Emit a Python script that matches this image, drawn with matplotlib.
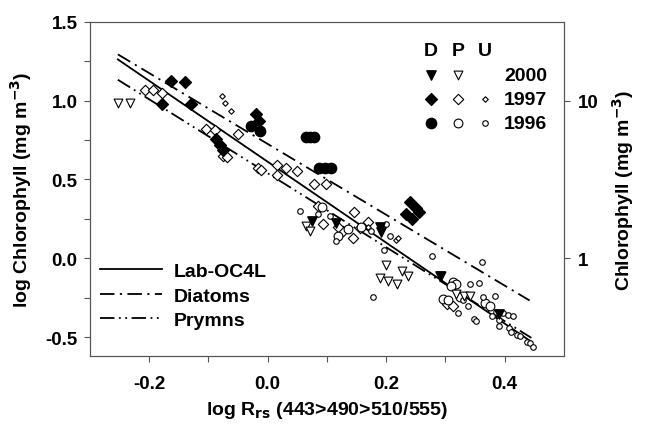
import matplotlib
matplotlib.use("Agg")
import matplotlib.pyplot as plt
import numpy as np

plt.rcParams['font.family'] = ['Liberation Sans', 'DejaVu Sans']

# ---- data ----
d2000_x = [0.074, 0.115, 0.189, 0.192, 0.290, 0.391]
d2000_y = [0.238, 0.223, 0.196, 0.165, -0.110, -0.355]

p2000_x = [-0.253, -0.233, 0.065, 0.071, 0.199, 0.226, 0.237, 0.189, 0.203, 0.218, 0.293, 0.318, 0.332, 0.341]
p2000_y = [0.987, 0.987, 0.206, 0.175, -0.042, -0.078, -0.114, -0.127, -0.142, -0.163, -0.110, -0.226, -0.237, -0.237]

d1997_x = [-0.163, -0.140, -0.178, -0.130, -0.088, -0.081, -0.076, -0.020, -0.015, 0.240, 0.251, 0.234, 0.244, 0.256]
d1997_y = [1.124, 1.118, 0.981, 0.977, 0.755, 0.717, 0.685, 0.913, 0.871, 0.354, 0.316, 0.280, 0.249, 0.293]

p1997_x = [-0.207, -0.194, -0.179, -0.104, -0.089, -0.050, -0.076, -0.069, -0.016, -0.011, 0.015, 0.015,
           0.030, 0.050, 0.078, 0.099, 0.085, 0.146, 0.170, 0.093, 0.127, 0.144, 0.118, 0.155, 0.302, 0.313]
p1997_y = [1.067, 1.067, 1.051, 0.818, 0.814, 0.791, 0.649, 0.639, 0.572, 0.561, 0.591, 0.527,
           0.572, 0.554, 0.470, 0.470, 0.333, 0.291, 0.228, 0.217, 0.175, 0.127, 0.200, 0.190, -0.289, -0.304]

u1997_x = [-0.078, -0.072, -0.062, 0.216, 0.220, 0.170]
u1997_y = [1.029, 0.987, 0.934, 0.118, 0.130, 0.200]

d1996_x = [-0.029, -0.013, 0.064, 0.071, 0.078, 0.086, 0.096, 0.106]
d1996_y = [0.839, 0.804, 0.770, 0.770, 0.770, 0.572, 0.572, 0.572]

p1996_x = [0.091, 0.119, 0.136, 0.158, 0.313, 0.318, 0.310, 0.296, 0.304, 0.324, 0.366, 0.376]
p1996_y = [0.323, 0.143, 0.185, 0.196, -0.152, -0.163, -0.173, -0.258, -0.268, -0.247, -0.283, -0.304]

u1996_x = [0.054, 0.085, 0.105, 0.115, 0.175, 0.200, 0.206, 0.196, 0.278, 0.178, 0.362, 0.341, 0.356,
           0.363, 0.383, 0.330, 0.338, 0.321, 0.386, 0.397, 0.405, 0.414, 0.379, 0.391, 0.349, 0.351,
           0.390, 0.408, 0.411, 0.420, 0.425, 0.437, 0.442, 0.448]
u1996_y = [0.301, 0.280, 0.270, 0.111, 0.175, 0.217, 0.143, 0.053, 0.013, -0.247, -0.025, -0.163, -0.156,
           -0.247, -0.237, -0.268, -0.304, -0.348, -0.338, -0.346, -0.359, -0.367, -0.367, -0.389, -0.384, -0.401,
           -0.427, -0.441, -0.468, -0.485, -0.494, -0.532, -0.536, -0.563]

oc4_x = [-0.253, 0.445]
oc4_y = [1.261, -0.530]
diat_x = [-0.253, 0.442]
diat_y = [1.293, -0.268]
prym_x = [-0.253, 0.445]
prym_y = [1.132, -0.505]

line_labels = ['Lab-OC4L', 'Diatoms', 'Prymns']
group_labels = ['D', 'P', 'U']
year_labels = ['2000', '1997', '1996']
right_ticks = [1, 10]

# ---- figure ----
fig = plt.figure(figsize=(6.46, 4.31), dpi=100)
ax = fig.add_axes([0.1393, 0.1717, 0.7337, 0.7756])

dashdot = (0, (8, 3, 1.2, 3))
dashdotdot = (0, (8, 2.5, 1, 2.5, 1, 2.5))
l1, = ax.plot(oc4_x, oc4_y, color='black', lw=1.3, ls='-')
l2, = ax.plot(diat_x, diat_y, color='black', lw=1.3, ls=dashdot)
l3, = ax.plot(prym_x, prym_y, color='black', lw=1.3, ls=dashdotdot)

kw_open = dict(facecolor='white', edgecolor='black', linewidths=0.8, zorder=3)
ax.scatter(p1997_x, p1997_y, marker='D', s=28, **kw_open)
ax.scatter(u1997_x, u1997_y, marker='D', s=8, **kw_open)
ax.scatter(p1996_x, p1996_y, marker='o', s=40, **kw_open)
ax.scatter(u1996_x, u1996_y, marker='o', s=16, **kw_open)
ax.scatter(p2000_x, p2000_y, marker='v', s=40, **kw_open)
ax.scatter(d2000_x, d2000_y, marker='v', s=45, color='black', zorder=4)
ax.scatter(d1997_x, d1997_y, marker='D', s=36, color='black', zorder=4)
ax.scatter(d1996_x, d1996_y, marker='o', s=55, color='black', zorder=4)

ax.set_xlim(-0.3, 0.5)
ax.set_ylim(-0.62, 1.5)
ax.set_xticks([-0.2, 0.0, 0.2, 0.4])
ax.set_xticks([-0.1, 0.1, 0.3], minor=True)
ax.set_yticks([-0.5, 0.0, 0.5, 1.0, 1.5])
ax.set_yticks([-0.25, 0.25, 0.75, 1.25], minor=True)
ax.set_xticklabels(['%.1f' % v for v in [-0.2, 0.0, 0.2, 0.4]], fontsize=13.5, fontweight='bold')
ax.set_yticklabels(['%.1f' % v for v in [-0.5, 0.0, 0.5, 1.0, 1.5]], fontsize=13.5, fontweight='bold')
ax.tick_params(which='both', direction='out', length=4, width=0.8, color='#555555', pad=5)
ax.tick_params(axis='x', pad=10)
for sp in ax.spines.values():
    sp.set_color('#555555')
    sp.set_linewidth(0.8)

ax.set_xlabel(r'log R$_{\mathbf{rs}}$ (443>490>510/555)', fontsize=14, fontweight='bold', labelpad=5)
ax.set_ylabel(r'log Chlorophyll (mg m$^{\mathbf{-3}}$)', fontsize=14, fontweight='bold', labelpad=8)

ax2 = ax.twinx()
ax2.set_ylim(ax.get_ylim())
ax2.set_yticks(np.log10(right_ticks))
ax2.set_yticklabels([str(v) for v in right_ticks], fontsize=13.5, fontweight='bold')
ax2.tick_params(direction='out', length=4, width=0.8, color='#555555', pad=6)
for sp in ax2.spines.values():
    sp.set_color('#555555')
    sp.set_linewidth(0.8)
ax2.set_ylabel(r'Chlorophyll (mg m$^{\mathbf{-3}}$)', fontsize=14, fontweight='bold', labelpad=8)

# line legend
leg = ax.legend([l1, l2, l3], line_labels, loc='lower left', bbox_to_anchor=(-0.008, 0.04),
                frameon=False, prop={'weight': 'bold', 'size': 14},
                handlelength=3.2, handletextpad=0.6, labelspacing=0.35, borderaxespad=0.3)

# symbol legend (top right)
tr = ax.transAxes
colx = [0.72, 0.777, 0.834]
for cx, g in zip(colx, group_labels):
    ax.text(cx, 0.913, g, transform=tr, fontsize=14, fontweight='bold', ha='center', va='center')
rows_y = [0.84, 0.768, 0.697]
markers = ['v', 'D', 'o']
for ry, yr, m in zip(rows_y, year_labels, markers):
    ax.text(0.965, ry, yr, transform=tr, fontsize=14, fontweight='bold', ha='right', va='center')
    ms_d = {'v': 45, 'D': 36, 'o': 55}[m]
    ms_p = {'v': 40, 'D': 28, 'o': 40}[m]
    ax.scatter([colx[0]], [ry], marker=m, s=ms_d, color='black', transform=tr, clip_on=False, zorder=5)
    ax.scatter([colx[1]], [ry], marker=m, s=ms_p, transform=tr, clip_on=False, **kw_open)
    if yr != '2000':
        ax.scatter([colx[2]], [ry], marker=m, s={'D': 8, 'o': 16}[m], transform=tr, clip_on=False, **kw_open)

fig.savefig('out.png', dpi=100)
